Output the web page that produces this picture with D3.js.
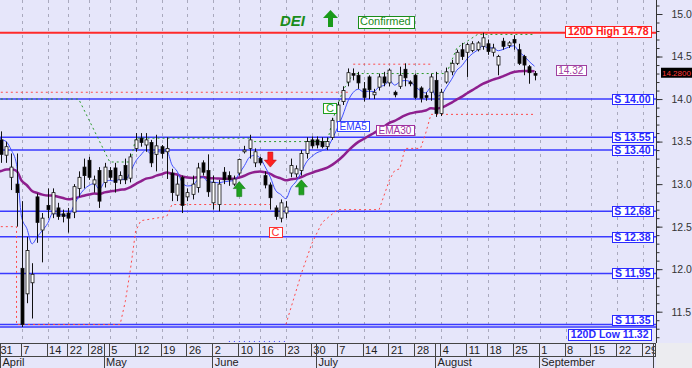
<!DOCTYPE html>
<html>
<head>
<meta charset="utf-8">
<script src="https://cdn.jsdelivr.net/npm/d3@7"></script>
<style>
  body { margin: 0; background: #e6e6fa; }
  svg { display: block; font-family: Arial, "Liberation Sans", sans-serif; }
</style>
</head>
<body>
<div id="chart"></div>
<script>

var svgWidth = 692, svgHeight = 368, plotRight = 657, plotBottom = 343;

// trading calendar (exchange closed on these days)
var holidays = ["2014-04-18", "2014-04-21", "2014-05-01", "2014-06-09", "2014-08-15"];

// daily candles 31 Mar .. 29 Aug 2014
var opens = [13.50,13.52,13.34,13.08,13.00,12.01,11.71,11.84,12.85,12.46,
  12.75,12.65,12.72,12.65,12.66,12.67,12.95,13.20,13.28,13.00,
  13.16,13.02,13.16,13.19,13.05,13.22,13.07,13.42,13.54,13.46,
  13.49,13.35,13.44,13.38,13.13,12.87,13.08,12.85,12.88,12.96,
  13.25,13.16,12.78,12.76,13.14,13.10,13.00,13.13,13.38,13.42,
  13.25,13.30,13.10,12.99,12.72,12.60,12.66,13.13,13.12,13.16,
  13.36,13.52,13.52,13.50,13.44,13.55,13.73,13.97,14.20,14.30,
  14.28,14.12,14.26,14.05,14.14,14.26,14.19,14.08,14.15,14.35,
  14.20,14.28,14.13,14.04,14.08,14.22,13.83,14.20,14.32,14.42,
  14.58,14.55,14.57,14.58,14.62,14.65,14.55,14.40,14.68,14.63,
  14.70,14.58,14.50,14.38,14.30];
var highs = [13.62,13.62,13.50,13.36,13.36,12.80,12.38,12.07,12.89,12.66,
  12.95,12.95,12.78,12.70,12.72,13.00,13.15,13.30,13.32,13.10,
  13.20,13.25,13.20,13.25,13.15,13.30,13.36,13.60,13.60,13.60,
  13.52,13.58,13.46,13.55,13.18,13.10,13.10,12.95,13.10,13.25,
  13.28,13.35,13.10,13.05,13.20,13.15,13.10,13.30,13.45,13.58,
  13.42,13.32,13.15,13.02,12.75,12.82,12.80,13.30,13.22,13.40,
  13.55,13.56,13.56,13.55,13.55,13.78,13.97,14.15,14.36,14.36,
  14.32,14.20,14.28,14.12,14.30,14.32,14.36,14.10,14.38,14.42,
  14.22,14.30,14.15,14.08,14.30,14.32,14.12,14.37,14.46,14.58,
  14.66,14.66,14.68,14.68,14.78,14.70,14.65,14.52,14.72,14.68,
  14.75,14.65,14.52,14.40,14.33];
var lows = [13.40,13.25,13.25,12.93,12.50,11.32,11.60,11.42,12.31,12.08,
  12.60,12.60,12.58,12.55,12.43,12.60,12.85,12.95,13.05,12.90,
  12.72,12.96,13.05,12.90,13.00,13.00,13.02,13.38,13.44,13.38,
  13.20,13.15,13.30,13.06,12.80,12.80,12.66,12.80,12.82,12.90,
  13.10,12.85,12.70,12.68,13.00,12.98,12.98,13.10,13.36,13.30,
  13.20,13.22,12.95,12.70,12.58,12.55,12.60,13.08,13.08,13.10,
  13.30,13.42,13.42,13.42,13.40,13.52,13.70,13.93,14.15,14.22,
  14.12,13.97,14.00,14.00,14.10,14.15,14.15,14.02,14.12,14.15,
  14.15,14.00,13.96,13.98,13.98,13.79,13.80,14.18,14.28,14.40,
  14.46,14.26,14.55,14.56,14.58,14.52,14.50,14.28,14.58,14.60,
  14.58,14.40,14.28,14.18,14.22];
var closes = [13.55,13.35,13.44,13.20,12.90,11.35,12.22,11.94,12.55,12.60,
  12.70,12.90,12.62,12.62,12.60,12.97,13.08,13.10,13.08,13.05,
  12.80,13.20,13.08,13.02,13.10,13.05,13.32,13.52,13.49,13.52,
  13.25,13.45,13.36,13.42,12.90,13.00,12.75,12.90,13.00,13.19,
  13.14,12.91,13.02,13.00,13.05,13.05,13.06,13.29,13.40,13.52,
  13.38,13.25,12.99,12.84,12.62,12.78,12.73,13.22,13.18,13.36,
  13.50,13.45,13.46,13.44,13.50,13.75,13.93,14.10,14.31,14.28,
  14.19,14.02,14.11,14.08,14.26,14.19,14.34,14.05,14.28,14.25,
  14.18,14.02,14.01,14.02,14.26,13.83,14.08,14.32,14.42,14.55,
  14.50,14.64,14.65,14.66,14.72,14.56,14.60,14.50,14.62,14.66,
  14.66,14.42,14.40,14.31,14.28];

// moving average start values read at the left edge
var ema5Start = 13.62, ema30Start = 13.14, ema30Last = 14.32;

// support / range levels
var supportLevels = [14.00, 13.55, 13.40, 12.68, 12.38, 11.95, 11.35];
var supportText = ["S 14.00", "S 13.55", "S 13.40", "S 12,68", "S 12.38", "S 11,95", "S 11.35"];
var high120 = 14.78, low120 = 11.32;

// stop lines as [day index, price]
var greenStop = [[0,14.0],[16,14.0],[22,13.26],[26,13.26],[27,13.54],[49,13.54],[49,13.5],[64,13.5],
  [65,13.75],[67,14.1],[69,14.3],[87,14.3],[89,14.6],[93,14.76],[104,14.76]];
var redStop1 = [[0,12.5],[4,12.5],[4,11.35],[24,11.35],[25,11.62],[26,12.0],[27,12.45],[28,12.57],
  [33,12.62],[34,12.76],[53,12.76]];
var redStop2 = [[56,11.35],[57,11.55],[59,11.95],[61,12.3],[63,12.55],[66,12.7],[74,12.7],[76,13.05],
  [77,13.16],[78,13.18],[79,13.42],[82,13.42],[83,13.6],[84,13.82],[104,13.82]];
var redResist = [[[0,14.08],[68,14.08]], [[69,14.41],[84,14.41]]];
var blueDots = [[45,11.15],[56,11.15]];

// signals: [day index, price at arrow tip]
var buySignals = [[47,13.03],[59,13.05]];
var sellSignals = [[53,13.2]];
var crossMarks = [{at:54, val:12.5, color:"#ff3030"}, {at:64.5, val:13.95, color:"#20a020"}];

var parseDay = d3.utcFormat("%Y-%m-%d");
var days = d3.utcDay.range(new Date(Date.UTC(2014,2,31)), new Date(Date.UTC(2014,9,2)))
  .filter(d => d.getUTCDay() % 6 != 0 && holidays.indexOf(parseDay(d)) < 0);

var x = d3.scaleLinear().domain([0, days.length - 1]).range([-4.2, -4.2 + (days.length - 1) * 5.18]);
var y = d3.scaleLinear().domain([11.5, 15.0]).range([311.7, 14]);

function ema(values, start, n){
  var k = 2 / (n + 1), out = [], prev = start;
  values.forEach(function(v, i){
    prev = i == 0 ? start : prev + k * (v - prev);
    out.push(prev);
  });
  return out;
}

var candles = closes.map(function(c, i){
  return {i: i, o: opens[i], h: highs[i], l: lows[i], c: c};
});
var ema5 = ema(closes, ema5Start, 5);
var ema30 = ema(closes, ema30Start, 30);

var svg = d3.select("#chart").append("svg")
  .attr("width", svgWidth).attr("height", svgHeight);

svg.append("defs").append("clipPath").attr("id", "plotclip")
  .append("rect").attr("x", 0).attr("y", 0).attr("width", plotRight).attr("height", plotBottom);
svg.append("defs").append("clipPath").attr("id", "axisclip")
  .append("rect").attr("x", 0).attr("y", plotBottom).attr("width", 656).attr("height", 25);

svg.append("rect").attr("width", svgWidth).attr("height", svgHeight).attr("fill", "#e6e6fa");
svg.append("rect").attr("x", 656).attr("y", plotBottom).attr("width", 36).attr("height", 25).attr("fill", "#ececf0");

var plot = svg.append("g").attr("clip-path", "url(#plotclip)");

// week start / month start indices
var weekIdx = [], monthIdx = [];
days.forEach(function(d, i){
  if (i == 0 || +d3.utcMonday.floor(d) != +d3.utcMonday.floor(days[i-1])) weekIdx.push(i);
  if (i > 0 && d.getUTCMonth() != days[i-1].getUTCMonth()) monthIdx.push(i);
});

plot.selectAll(".vgrid").data(weekIdx).enter().append("line")
  .attr("x1", d => Math.round(x(d)) + 0.5).attr("x2", d => Math.round(x(d)) + 0.5)
  .attr("y1", 0).attr("y2", plotBottom)
  .attr("stroke", "#a9a9bd").attr("stroke-dasharray", "3,4");

// horizontal levels
plot.selectAll(".sline").data(supportLevels.concat([low120])).enter().append("line")
  .attr("x1", 0).attr("x2", plotRight)
  .attr("y1", d => y(d)).attr("y2", d => y(d))
  .attr("stroke", "#3a3aff").attr("stroke-width", 1.5);
plot.append("line").attr("x1", 0).attr("x2", plotRight)
  .attr("y1", y(high120)).attr("y2", y(high120))
  .attr("stroke", "#ff2a2a").attr("stroke-width", 2);

var stopLine = d3.line().x(d => x(d[0])).y(d => y(d[1]));

plot.append("path").attr("d", stopLine(greenStop)).attr("fill", "none")
  .attr("stroke", "#2a9a2a").attr("stroke-width", 1).attr("stroke-dasharray", "2,3");
[redStop1, redStop2].concat(redResist).forEach(function(seg){
  plot.append("path").attr("d", stopLine(seg)).attr("fill", "none")
    .attr("stroke", "#ff4a4a").attr("stroke-width", 1).attr("stroke-dasharray", "2,3");
});
plot.append("path").attr("d", stopLine(blueDots)).attr("fill", "none")
  .attr("stroke", "#3a3aff").attr("stroke-width", 1).attr("stroke-dasharray", "1,4");

var emaLine = d3.line().x((d, i) => x(i)).y(d => y(d)).curve(d3.curveMonotoneX);
plot.append("path").attr("d", emaLine(ema30)).attr("fill", "none")
  .attr("stroke", "#8e1f8e").attr("stroke-width", 2.5);
plot.append("path").attr("d", emaLine(ema5)).attr("fill", "none")
  .attr("stroke", "#4050ff").attr("stroke-width", 1);

// candles
var cg = plot.selectAll(".candle").data(candles).enter().append("g");
cg.append("line")
  .attr("x1", d => Math.round(x(d.i)) + 0.5).attr("x2", d => Math.round(x(d.i)) + 0.5)
  .attr("y1", d => y(d.h)).attr("y2", d => y(d.l))
  .attr("stroke", "#111").attr("stroke-width", 1);
cg.append("rect")
  .attr("x", d => Math.round(x(d.i)) - 1)
  .attr("y", d => y(Math.max(d.o, d.c)))
  .attr("width", 3)
  .attr("height", d => Math.max(1, Math.abs(y(d.o) - y(d.c))))
  .attr("fill", d => d.c >= d.o ? "#ffffff" : "#000000")
  .attr("stroke", "#111").attr("stroke-width", 0.8);

// signal arrows
function arrowPath(cx, tipY, dir){
  var s = dir;
  return "M" + cx + "," + tipY +
    "L" + (cx + 6) + "," + (tipY + 7 * s) + "L" + (cx + 2.5) + "," + (tipY + 7 * s) +
    "L" + (cx + 2.5) + "," + (tipY + 15 * s) + "L" + (cx - 2.5) + "," + (tipY + 15 * s) +
    "L" + (cx - 2.5) + "," + (tipY + 7 * s) + "L" + (cx - 6) + "," + (tipY + 7 * s) + "Z";
}
plot.selectAll(".buy").data(buySignals).enter().append("path")
  .attr("d", d => arrowPath(x(d[0]), y(d[1]), 1))
  .attr("fill", "#1fa01f").attr("stroke", "#137813").attr("stroke-width", 0.6);
plot.selectAll(".sell").data(sellSignals).enter().append("path")
  .attr("d", d => arrowPath(x(d[0]), y(d[1]), -1))
  .attr("fill", "#ff2020").attr("stroke", "#c01010").attr("stroke-width", 0.6);

// small boxed labels
function boxLabel(g, txt, xPos, cy, col, anchor, font, h){
  var grp = g.append("g");
  var t = grp.append("text").text(txt)
    .attr("y", cy).attr("dy", "0.36em")
    .attr("fill", col).style("font", font);
  var w = t.node().getComputedTextLength() + 5;
  var x0 = anchor == "end" ? xPos - w : (anchor == "middle" ? xPos - w / 2 : xPos);
  t.attr("x", x0 + 2.5);
  grp.insert("rect", "text")
    .attr("x", Math.round(x0) + 0.5).attr("y", Math.round(cy - h / 2) + 0.5)
    .attr("width", Math.round(w)).attr("height", h)
    .attr("fill", "#ffffff").attr("stroke", col).attr("stroke-width", 1);
  return grp;
}

crossMarks.forEach(function(m){
  boxLabel(plot, "C", x(m.at), y(m.val) + 5, m.color, "middle", "11px Arial", 10);
});

var labelFont = "bold 10.5px Arial";
supportLevels.forEach(function(v, i){
  var cy = y(v);
  if (v == 11.35) cy -= 4;
  boxLabel(plot, supportText[i], 653, cy, "#2a2aff", "end", labelFont, 10);
});
boxLabel(plot, "120D Low " + low120.toFixed(2), 651, y(low120) + 7, "#2a2aff", "end", labelFont, 11);
boxLabel(plot, "120D High " + high120.toFixed(2), 651, y(high120) - 1.5, "#ff2020", "end", labelFont, 11);

boxLabel(plot, "EMA5", x(66) - 0.7, y(13.68), "#3040ff", "start", "10px Arial", 10);
boxLabel(plot, "EMA30", x(73.4), y(13.635), "#a0309f", "start", "10px Arial", 10);
boxLabel(plot, ema30Last.toFixed(2), x(108.1), y(14.34), "#a0409f", "start", "10px Arial", 10);

// title
var title = svg.append("g");
title.append("text").attr("x", 280).attr("y", 26).text("DEI")
  .attr("fill", "#1a8c1a").style("font", "italic bold 15px Arial");
title.append("path").attr("d", "M330.5,10L338,18L333,18L333,27L328,27L328,18L323,18Z")
  .attr("fill", "#1a9a1a");
boxLabel(title, "Confirmed", 357.5, 21.5, "#1a8c1a", "start", "11px Arial", 12);

// y axis
var yMajor = d3.range(11.5, 15.01, 0.5);
var yMinor = d3.range(112, 152).map(d => d / 10);
var axisG = svg.append("g").attr("transform", "translate(" + (plotRight - 0.5) + ",0)");
axisG.append("g").call(d3.axisRight(y).tickValues(yMinor).tickSize(3).tickFormat(""))
  .call(g => g.select(".domain").remove());
axisG.append("g").call(d3.axisRight(y).tickValues(yMajor).tickSize(6).tickPadding(9).tickFormat(d3.format(".1f")))
  .call(g => g.select(".domain").remove())
  .call(g => g.selectAll("text").style("font", "10.5px Arial").attr("fill", "#333"));
axisG.selectAll("line").attr("stroke", "#333");
axisG.append("line").attr("x1", 0).attr("x2", 0).attr("y1", 0).attr("y2", plotBottom).attr("stroke", "#333");

// last price tag
var last = closes[closes.length - 1];
svg.append("rect").attr("x", 661).attr("y", y(last) - 7.5).attr("width", 31).attr("height", 10).attr("fill", "#000");
svg.append("text").attr("x", 662).attr("y", y(last) - 2.5).attr("dy", "0.35em")
  .text(last.toFixed(4)).attr("fill", "#ff3b3b").style("font", "8px Arial");

// date axis: week row and month row
var xa = svg.append("g").attr("clip-path", "url(#axisclip)");
xa.append("line").attr("x1", 0).attr("x2", 656).attr("y1", plotBottom + 0.5).attr("y2", plotBottom + 0.5).attr("stroke", "#444");
xa.append("line").attr("x1", 0).attr("x2", 656).attr("y1", 356.5).attr("y2", 356.5).attr("stroke", "#444");
xa.selectAll(".wk").data(weekIdx).enter().append("line")
  .attr("x1", d => Math.round(x(d)) - 0.5).attr("x2", d => Math.round(x(d)) - 0.5)
  .attr("y1", plotBottom).attr("y2", 356.5).attr("stroke", "#444");
xa.selectAll(".wkt").data(weekIdx).enter().append("text")
  .attr("x", d => Math.max(0.5, x(d) + 1.5)).attr("y", 354)
  .text(d => days[d].getUTCDate())
  .attr("fill", "#222").style("font", "11px Arial");
xa.selectAll(".mo").data(monthIdx).enter().append("line")
  .attr("x1", d => Math.round(x(d)) - 0.5).attr("x2", d => Math.round(x(d)) - 0.5)
  .attr("y1", plotBottom).attr("y2", svgHeight).attr("stroke", "#444");
xa.selectAll(".mot").data(monthIdx.filter(d => x(d) < 600)).enter().append("text")
  .attr("x", d => x(d) + 1.5).attr("y", 366)
  .text(d => d3.utcFormat("%B")(days[d]))
  .attr("fill", "#222").style("font", "11px Arial");
xa.append("line").attr("x1", 655.5).attr("x2", 655.5).attr("y1", plotBottom).attr("y2", 356.5).attr("stroke", "#444");

</script>
</body>
</html>
